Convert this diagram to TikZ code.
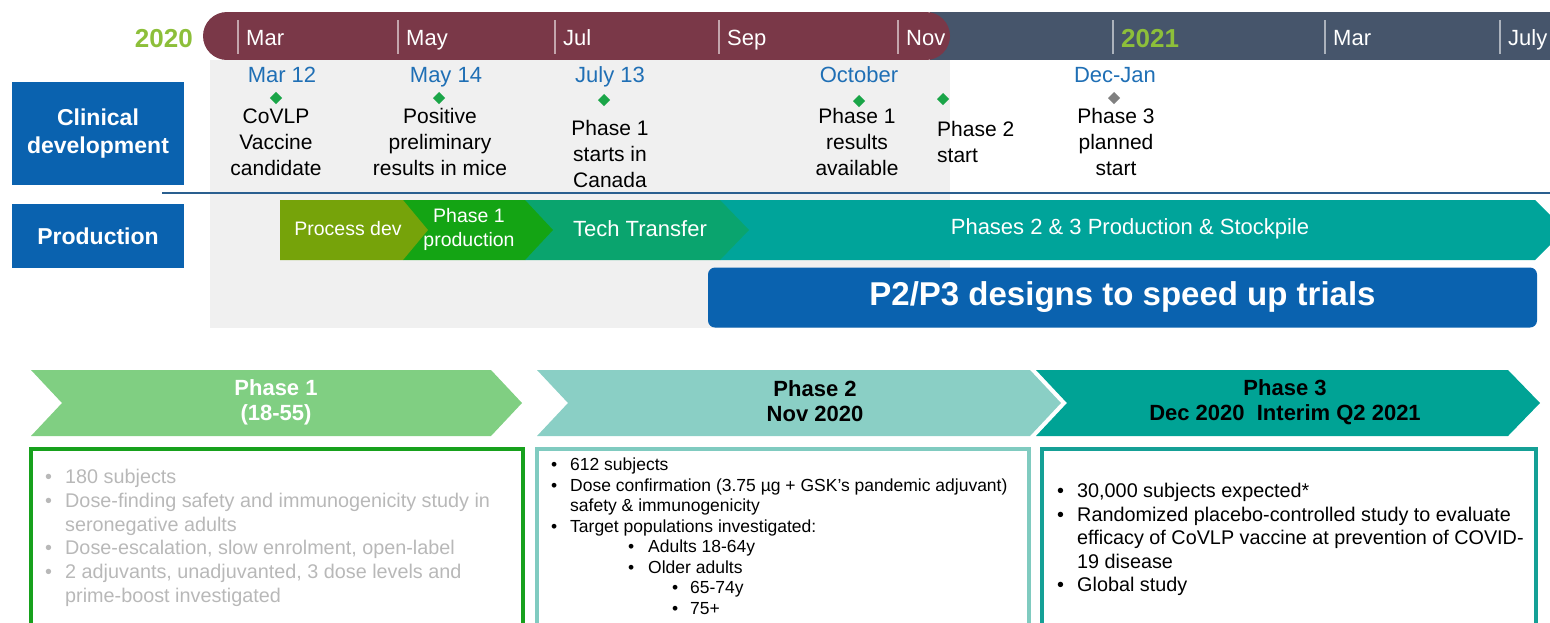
\documentclass[tikz,border=0pt]{standalone}
\usepackage{fontspec}
\setmainfont{Liberation Sans}
\usetikzlibrary{positioning}

\definecolor{maroonbar}{HTML}{7A3848}
\definecolor{slatebar}{HTML}{46556B}
\definecolor{yeargreen}{HTML}{8DBF3A}
\definecolor{datblue}{HTML}{1F6FB5}
\definecolor{labblue}{HTML}{0A62AF}
\definecolor{panelgray}{HTML}{F0F0F0}
\definecolor{divblue}{HTML}{2A5F8F}
\definecolor{milegreen}{HTML}{1AA548}
\definecolor{procgreen}{HTML}{76A30A}
\definecolor{prodgreen}{HTML}{14A414}
\definecolor{techgreen}{HTML}{0AA46E}
\definecolor{stockteal}{HTML}{00A49A}
\definecolor{ponearrow}{HTML}{80CF82}
\definecolor{ptwoarrow}{HTML}{8ACFC5}
\definecolor{pthreearrow}{HTML}{00A395}
\definecolor{poneframe}{HTML}{17A11D}
\definecolor{ptwoframe}{HTML}{80CBC0}
\definecolor{pthreeframe}{HTML}{15A096}
\definecolor{fadetext}{HTML}{B8B8B8}

\newcommand{\fz}[2]{\fontsize{#1}{#2}\selectfont}
\newcommand{\bul}[1][19pt]{\makebox[#1][l]{\textbullet}}

\begin{document}
\begin{tikzpicture}[x=1pt, y=-1pt, inner sep=0pt,
	lab/.style={fill=labblue, text=white, font=\fz{23}{28}\bfseries, minimum width=172pt, align=center},
	month/.style={anchor=base west, text=white, font=\fz{22}{26}},
	date/.style={anchor=base, text=datblue, font=\fz{22}{26}},
	mile/.style={fill=milegreen, rotate=45, minimum size=8.5pt},
	miletxt/.style={align=center, font=\fz{21}{26}},
	bartxt/.style={text=white, align=center, font=\fz{22}{24}},
	phasetxt/.style={align=center, font=\fz{22}{25}\bfseries},
	boxtxt/.style={anchor=north west, align=left}]
	\clip (0,0) rectangle (1550,622);

	% timeline bar
	\fill[slatebar] (930,12) rectangle (1550,60);
	\fill[maroonbar, rounded corners=24pt] (203,12) rectangle (950,60);
	\node (y2020) [anchor=base east, text=yeargreen, font=\fz{26}{30}\bfseries] at (193,47) {2020};
	\foreach \x/\m [count=\i] in {238/Mar, 398/May, 555/Jul, 719/Sep, 898/Nov, 1325/Mar, 1500/July} {
		\draw[white, opacity=0.55, line width=1.2pt] (\x,20) -- (\x,54);
		\node (m\i) [month] at (\x+8,45) {\m};
	}
	\draw[white, opacity=0.55, line width=1.2pt] (1113,20) -- (1113,54);
	\node (y2021) [anchor=base west, text=yeargreen, font=\fz{26}{30}\bfseries] at (1121,47) {2021};

	% background panel and divider
	\fill[panelgray] (210,60) rectangle (950,328);
	\draw[divblue, line width=2pt] (162,193) -- (1550,193);

	% row labels
	\node (clin) [lab, minimum height=103pt] at (98,133.5) {Clinical\\development};
	\node (prod) [lab, minimum height=64pt] at (98,236) {Production};

	% milestones
	\node (mar12) [date] at (282,82) {Mar 12};
	\node (may14) [date] at (446,82) {May 14};
	\node (jul13) [date] at (610,82) {July 13};
	\node (oct) [date] at (859,82) {October};
	\node (decjan) [date] at (1115,82) {Dec-Jan};
	\node (dm1) [mile] at (276,98) {};
	\node (dm2) [mile] at (439,98) {};
	\node (dm3) [mile] at (604,100) {};
	\node (dm4) [mile] at (859,101) {};
	\node (dm5) [mile] at (943,99) {};
	\node (dm6) [mile, fill=gray] at (1114,98) {};
	\node (covlp) [miletxt] at (276,142) {CoVLP\\Vaccine\\candidate};
	\node (mice) [miletxt] at (440,142) {Positive\\preliminary\\results in mice};
	\node (canada) [miletxt] at (610,154) {Phase 1\\starts in\\Canada};
	\node (results) [miletxt] at (857,142) {Phase 1\\results\\available};
	\node (p2start) [miletxt, align=left, anchor=west] at (937,142) {Phase 2\\start};
	\node (p3start) [miletxt] at (1116,142) {Phase 3\\planned\\start};

	% production chevrons
	\fill[stockteal] (720,200) -- (1535,200) -- (1565,230) -- (1535,260) -- (720,260) -- cycle;
	\fill[techgreen] (525,200) -- (720,200) -- (749,230) -- (720,260) -- (525,260) -- cycle;
	\fill[prodgreen] (403,200) -- (525,200) -- (553,230) -- (525,260) -- (403,260) -- cycle;
	\fill[procgreen] (280,200) -- (403,200) -- (428,230) -- (403,260) -- (280,260) -- cycle;
	\node (procdev) [bartxt, font=\fz{19.5}{24}] at (348,229) {Process dev};
	\node (p1prod) [bartxt, font=\fz{19.5}{24}] at (469,229) {Phase 1\\production};
	\node (tech) [bartxt] at (640,229) {Tech Transfer};
	\node (stock) [bartxt] at (1130,229) {Phases 2 \& 3 Production \& Stockpile};

	\node (speed) [fill=labblue, rounded corners=7pt, minimum width=829pt, minimum height=60pt,
		text=white, font=\fz{33}{36}\bfseries] at (1122.5,297.5) {P2/P3 designs to speed up trials};

	% phase arrows
	\fill[ponearrow] (31,370) -- (491,370) -- (522,403) -- (491,436) -- (31,436) -- (62,403) -- cycle;
	\fill[ptwoarrow] (537,370) -- (1030,370) -- (1061,403) -- (1030,436) -- (537,436) -- (568,403) -- cycle;
	\fill[pthreearrow] (1036,370) -- (1508,370) -- (1540,403) -- (1508,436) -- (1036,436) -- (1067,403) -- cycle;
	\node (ph1) [phasetxt, text=white] at (276,402) {Phase 1\\(18-55)};
	\node (ph2) [phasetxt] at (815,401) {Phase 2\\Nov 2020};
	\node (ph3) [phasetxt] at (1285,402) {Phase 3\\Dec 2020\ \ Interim Q2 2021};

	% detail boxes
	\draw[poneframe, line width=4pt] (31,449) rectangle (523,640);
	\draw[ptwoframe, line width=3.5pt] (537,449) rectangle (1029,640);
	\draw[pthreeframe, line width=4pt] (1042,449) rectangle (1536,640);
	\node (txt1) [boxtxt, text=fadetext, font=\fz{19.8}{23.8}] at (45,469) {%
		\bul[20pt]180 subjects\\
		\bul[20pt]Dose-finding safety and immunogenicity study in\\
		\hspace*{20pt}seronegative adults\\
		\bul[20pt]Dose-escalation, slow enrolment, open-label\\
		\bul[20pt]2 adjuvants, unadjuvanted, 3 dose levels and\\
		\hspace*{20pt}prime-boost investigated};
	\node (txt2) [boxtxt, font=\fz{17.5}{20.5}] at (551,458) {%
		\bul 612 subjects\\
		\bul Dose confirmation (3.75 µg + GSK’s pandemic adjuvant)\\
		\hspace*{19pt}safety \& immunogenicity\\
		\bul Target populations investigated:\\
		\hspace*{77pt}\bul[20pt]Adults 18-64y\\
		\hspace*{77pt}\bul[20pt]Older adults\\
		\hspace*{121pt}\bul[18pt]65-74y\\
		\hspace*{121pt}\bul[18pt]75+};
	\node (txt3) [boxtxt, font=\fz{19.8}{23.5}] at (1057,483) {%
		\bul[20pt]30,000 subjects expected*\\
		\bul[20pt]Randomized placebo-controlled study to evaluate\\
		\hspace*{20pt}efficacy of CoVLP vaccine at prevention of COVID-\\
		\hspace*{20pt}19 disease\\
		\bul[20pt]Global study};
\end{tikzpicture}
\end{document}
